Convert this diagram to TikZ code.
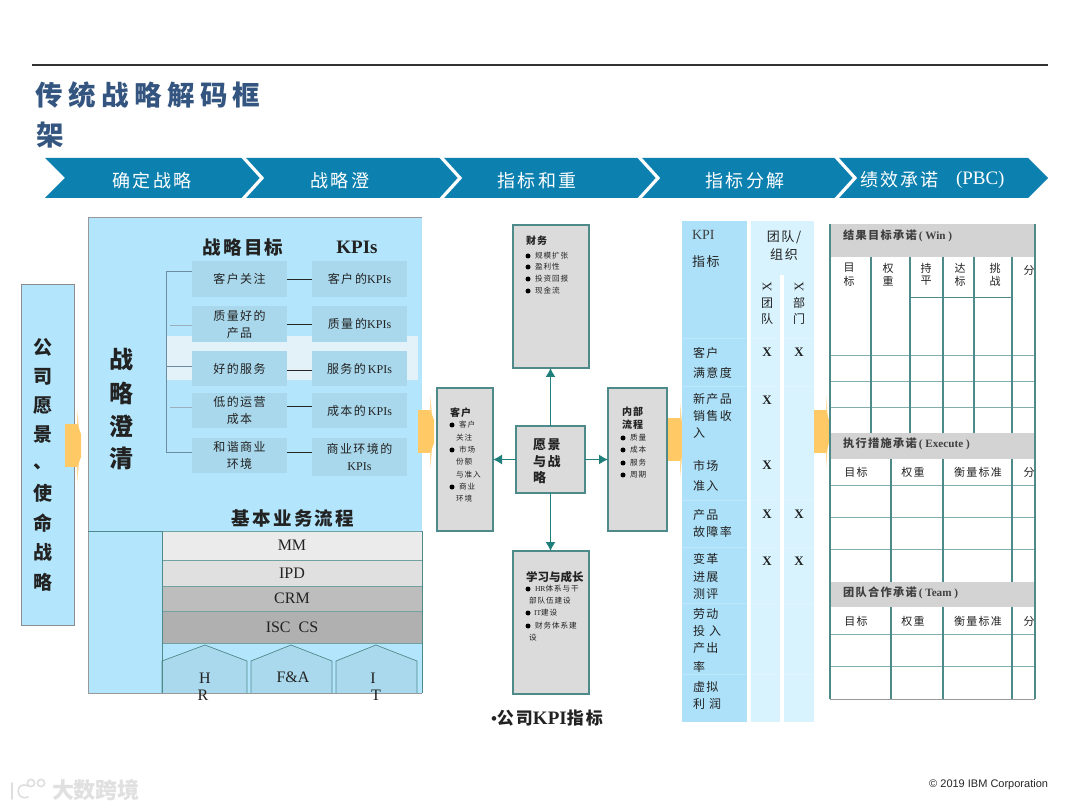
\documentclass[tikz,border=0pt]{standalone}
\usepackage{fontspec}
\setmainfont{Liberation Serif}
\newfontfamily\cj[LetterSpace=12]{Noto Sans CJK SC}
\newfontfamily\cjh[LetterSpace=14]{Noto Sans CJK SC}
\newfontfamily\cjt[LetterSpace=0]{Noto Sans CJK SC}
\newfontfamily\cjtitle[LetterSpace=20]{Noto Sans CJK SC}
\newfontfamily\arial{Liberation Sans}
\usetikzlibrary{arrows.meta}
\definecolor{panel}{HTML}{B3E6FC}
\definecolor{goal}{HTML}{A9D8EC}
\definecolor{band}{HTML}{E3F2F9}
\definecolor{chev}{HTML}{0C81B0}
\definecolor{titlec}{HTML}{34557F}
\definecolor{teal}{HTML}{4F8A8B}
\definecolor{dteal}{HTML}{1F7F7A}
\definecolor{orange}{HTML}{FFC966}
\definecolor{gbox}{HTML}{DBDBDB}
\definecolor{hdr}{HTML}{D3D3D3}
\definecolor{kpil}{HTML}{ADE1F9}
\definecolor{kpir}{HTML}{D8F3FD}
\definecolor{inkc}{HTML}{222222}
\definecolor{brk}{HTML}{6E8CA0}
\tikzset{
  every node/.style={inner sep=0pt,outer sep=0pt,text=inkc},
  lbl/.style={anchor=west,font=\cj\fontsize{12}{14}\selectfont},
  smtext/.style={anchor=west,font=\cj\fontsize{7.6}{8}\selectfont},
  smb/.style={anchor=west,font=\cj\bfseries\fontsize{10}{12}\selectfont},
  bullet/.style={circle,fill=black,minimum size=5pt},
  bigv/.style={font=\cj\bfseries\fontsize{19}{20}\selectfont},
  strv/.style={font=\cj\bfseries\fontsize{24}{26}\selectfont},
  chevtext/.style={text=white,font=\cj\fontsize{18}{20}\selectfont},
  goalbox/.style={fill=goal,anchor=north west,align=center,font=\cj\fontsize{12}{17}\selectfont},
  greybox/.style={draw=teal,line width=1.1pt,fill=gbox,anchor=north west},
  arr/.style={draw=dteal,line width=1.2pt,-{Latex[length=9pt,width=10pt]}},
  tablerule/.style={draw=teal,line width=1.4pt},
  thinrule/.style={draw=teal!70,line width=.7pt},
  hbar/.style={fill=hdr,anchor=north west},
  proc/.style={anchor=north west,draw=teal!80,line width=.5pt,font=\fontsize{16}{18}\selectfont,text=inkc},
  xmark/.style={font=\bfseries\fontsize{13}{14}\selectfont},
  headcell/.style={font=\cj\fontsize{11}{13}\selectfont,align=center},
  hdt/.style={anchor=west,font=\cj\bfseries\fontsize{11.2}{12}\selectfont,text=black!75},
  wmline/.style={draw=black!13,line width=1.6pt,line cap=round},
}
\newcommand{\orangearrow}[5]{% x0 xbody ytop ybot xtip
  \fill[orange!70] (#2,#3-15) -- (#5,{(#3+#4)/2}) -- (#2,#4+16) -- cycle;
  \fill[orange] (#1,#3) rectangle (#2,#4);
  \fill[orange] (#2,#3) -- (#5,#3+10) -- (#5,#4-10) -- (#2,#4) -- cycle;
}
\begin{document}
\begin{tikzpicture}[x=1pt,y=-1pt]
\useasboundingbox (0,0) rectangle (1080,810);
\fill[white] (0,0) rectangle (1080,810);
% top rule and title
\draw[black!80,line width=1.3pt] (32,65) -- (1048,65);
\node[anchor=west,text=titlec,font=\cjtitle\bfseries\fontsize{27.5}{30}\selectfont] (title1) at (35,95) {传统战略解码框};
\node[anchor=west,text=titlec,font=\cjt\bfseries\fontsize{27.5}{30}\selectfont] (title2) at (36,135) {架};
% chevrons
\fill[chev] (45,158) -- (1028,158) -- (1048,178) -- (1028,198) -- (45,198) -- (65,178) -- cycle;
\foreach \t in {262,460,658,855}{
  \draw[white,line width=3.2pt] (\t-20,156) -- (\t,178) -- (\t-20,200);
}
\node[chevtext] (c1) at (152,181) {确定战略};
\node[chevtext] (c2) at (340,181) {战略澄};
\node[chevtext] (c3) at (537,181) {指标和重};
\node[chevtext] (c4) at (745,181) {指标分解};
\node[chevtext,anchor=west] (c5) at (860,180) {绩效承诺};
\node[anchor=west,text=white,font=\fontsize{19}{20}\selectfont] (c5b) at (956,180) {(PBC)};
% left box
\node[draw=black!45,line width=1pt,fill=panel,anchor=north west,minimum width=53pt,minimum height=340pt] (vision) at (21,285) {};
\foreach \c/\y in {公/347,司/377,愿/406,景/435,、/467,使/493,命/523,战/552,略/582}{
  \node[bigv] at (43,\y) {\c};
}
% main panel
\fill[panel] (88,217) rectangle (422,693);
\draw[black!40,line width=.7pt] (88,693) -- (88,217) -- (422,217);
\draw[black!40,line width=.7pt] (88,693) -- (162,693);
\fill[band] (166,336) rectangle (418,380);
\foreach \c/\y in {战/360,略/393,澄/426,清/458}{
  \node[strv] at (121,\y) {\c};
}
\node[font=\cj\bfseries\fontsize{18.5}{20}\selectfont] (h1) at (243,247) {战略目标};
\node[font=\bfseries\fontsize{19}{20}\selectfont] (h2) at (357,247) {KPIs};
% goal and KPI rows
\foreach \n/\y/\h/\t in {1/261/36/{客户关注},2/306/36/{质量好的\\产品},3/351/35/{好的服务},4/393/35/{低的运营\\成本},5/438/35/{和谐商业\\环境}}{
  \node[goalbox,minimum width=95pt,minimum height=\h pt] (g\n) at (192,\y) {\t};
}
\node[goalbox,minimum width=95pt,minimum height=36pt] (k1) at (312,261) {客户\,的{\rmfamily KPIs}};
\node[goalbox,minimum width=95pt,minimum height=36pt] (k2) at (312,306) {质量\,的{\rmfamily KPIs}};
\node[goalbox,minimum width=95pt,minimum height=35pt] (k3) at (312,351) {服务的\,{\rmfamily KPIs}};
\node[goalbox,minimum width=95pt,minimum height=35pt] (k4) at (312,393) {成本的\,{\rmfamily KPIs}};
\node[goalbox,minimum width=95pt,minimum height=38pt] (k5) at (312,438) {商业环境的\\{\rmfamily KPIs}};
\foreach \n/\y in {1/280,2/325,3/371,4/407,5/453}{ \draw[black!85,line width=1pt] (g\n.east |- 0,\y) -- (k\n.west |- 0,\y); }
\coordinate (b1) at (166,272); \coordinate (b5) at (166,453);
\draw[brk,line width=1pt] (g1.west |- b1) -- (b1) -- (b5) -- (g5.west |- b5);
\draw[brk,line width=1pt] (166,367) -- (192,367);
\draw[brk!70,line width=.6pt] (170,325) -- (192,325);
\draw[brk!70,line width=.6pt] (170,407) -- (192,407);
% processes
\node[font=\cj\bfseries\fontsize{18.5}{20}\selectfont] (h3) at (293,518) {基本业务流程};
\draw[teal,line width=.7pt] (88,531) -- (422,531);
\node[proc,fill=black!8,minimum width=260pt,minimum height=29pt] (mm) at (162,531) {MM};
\node[proc,fill=black!12,minimum width=260pt,minimum height=26pt] (ipd) at (162,560) {IPD};
\node[proc,fill=black!26,minimum width=260pt,minimum height=25pt] (crm) at (162,586) {CRM};
\node[proc,fill=black!31,minimum width=260pt,minimum height=32pt] (isc) at (162,611) {ISC\ \ CS};
\foreach \a/\p/\b in {162/205/247,251/291/332,336/376/417}{
  \filldraw[fill=goal!90!panel,draw=teal,line width=.7pt] (\a,693) -- (\a,661) -- (\p,645) -- (\b,661) -- (\b,693);
}
\draw[teal,line width=1pt] (162,531) -- (162,693);
\draw[teal,line width=.8pt] (422,531) -- (422,693);
\draw[black!40,line width=.7pt] (162,693) -- (422,693);
\tikzset{pl/.style={font=\fontsize{16}{18}\selectfont}}
\node[pl] at (205,678) {H}; \node[pl] at (203,695) {R};
\node[pl] at (293,677) {F\&A};
\node[pl] at (373,678) {I}; \node[pl] at (376,695) {T};
% orange arrows
\orangearrow{65}{77}{424}{467}{81}
\orangearrow{418}{430}{410}{453}{434}
\orangearrow{667}{680}{418}{461}{684}
\orangearrow{813}{826}{410}{453}{829}
% balanced scorecard
\node[greybox,minimum width=76pt,minimum height=143pt] (fin) at (513,225) {};
\node[greybox,minimum width=56pt,minimum height=143pt] (cus) at (437,388) {};
\node[greybox,minimum width=59pt,minimum height=143pt] (int) at (608,388) {};
\node[greybox,minimum width=69pt,minimum height=67pt] (vis) at (516,426) {};
\node[greybox,minimum width=76pt,minimum height=143pt] (lrn) at (513,551) {};
\draw[arr] (vis.north) -- (vis.north |- fin.south);
\draw[arr] (vis.south) -- (vis.south |- lrn.north);
\draw[arr] (vis.west) -- (cus.east |- vis.west);
\draw[arr] (vis.east) -- (int.west |- vis.east);
\node[smb] at (526,241) {财务};
\foreach \t/\y in {规模扩张/256,盈利性/267,投资回报/279,现金流/291}{
  \node[bullet] at (528,\y) {}; \node[smtext] at (535,\y) {\t};
}
\node[smb] at (450,413) {客户};
\foreach \y in {425,450,487}{ \node[bullet] at (452,\y) {}; }
\foreach \t/\x/\y in {客户/459/425,关注/456/438,市场/459/450,份额/456/462,与准入/456/475,商业/459/487,环境/456/499}{
  \node[smtext] at (\x,\y) {\t};
}
\node[smb] at (622,412) {内部};
\node[smb] at (622,425) {流程};
\foreach \t/\y in {质量/438,成本/450,服务/463,周期/475}{
  \node[bullet] at (623,\y) {}; \node[smtext] at (630,\y) {\t};
}
\foreach \t/\x/\y in {愿景/533/445,与战/533/462,略/533/478}{
  \node[anchor=west,font=\cj\bfseries\fontsize{13}{14}\selectfont] at (\x,\y) {\t};
}
\node[smb,font=\cjt\bfseries\fontsize{11.5}{12}\selectfont] at (526,577) {学习与成长};
\foreach \y in {589,613,626}{ \node[bullet] at (528,\y) {}; }
\node[smtext] at (535,589) {{\rmfamily HR}体系与干};
\node[smtext] at (529,601) {部队伍建设};
\node[smtext] at (534,613) {{\rmfamily IT}建设};
\node[smtext] at (535,626) {财务体系建};
\node[smtext] at (529,638) {设};
\node[anchor=west,font=\cj\bfseries\fontsize{17}{18}\selectfont] (kpicap) at (491,718) {{\rmfamily\bfseries •}公司{\rmfamily\bfseries\fontsize{19}{20}\selectfont KPI}指标};
% KPI table
\fill[kpil] (682,221) rectangle (747,722);
\fill[kpir] (751,221) rectangle (814,275);
\fill[kpir] (751,275) rectangle (780,722);
\fill[kpir] (784,275) rectangle (814,722);
\foreach \y in {338,386,500,547,603,674}{
  \draw[white,opacity=.2,line width=.7pt] (682,\y) -- (814,\y);
}
\node[anchor=west,font=\fontsize{14}{16}\selectfont,text=black!75] (kh) at (692,235) {KPI};
\node[lbl,font=\cj\fontsize{13}{14}\selectfont] at (692,262) {指标};
\node[font=\cj\fontsize{13}{14}\selectfont] (th1) at (784,237) {团队/};
\node[font=\cj\fontsize{13}{14}\selectfont] (th2) at (784,255) {组织};
\foreach \x/\a/\b in {767/团/队,799/部/门}{
  \node[font=\fontsize{13}{14}\selectfont] at (\x,287) {\rotatebox{90}{X}};
  \node[font=\cj\fontsize{12}{14}\selectfont] at (\x,303) {\a};
  \node[font=\cj\fontsize{12}{14}\selectfont] at (\x,319) {\b};
}
\foreach \t/\y in {客户/353,满意度/373,新产品/399,销售收/416,入/433,市场/466,准入/486,产品/515,故障率/532,变革/559,进展/577,测评/594,劳动/614,投\,\,入/631,产出/648,率/667,虚拟/687,利\,\,润/704}{
  \node[lbl] at (693,\y) {\t};
}
\foreach \x/\y in {767/352,799/352,767/400,767/465,767/514,799/514,767/561,799/561}{
  \node[xmark] at (\x,\y) {X};
}
% commitment table
\node[hbar,minimum width=205pt,minimum height=33pt] (hw) at (830,224) {};
\node[hbar,minimum width=205pt,minimum height=26pt] (he) at (830,433) {};
\node[hbar,minimum width=205pt,minimum height=25pt] (ht) at (830,582) {};
\foreach \y in {355,381,407,485,517,549,634,666}{
  \draw[thinrule] (830,\y) -- (1035,\y);
}
\draw[black!40,line width=1pt] (830,699) -- (1035,699);
\draw[tablerule,line width=1pt] (910,298) -- (1012,298);
\foreach \x in {871,910,943,974,1012}{ \draw[tablerule] (\x,257) -- (\x,433); }
\foreach \x in {891,943,1012}{ \draw[tablerule] (\x,459) -- (\x,582); \draw[tablerule] (\x,607) -- (\x,699); }
\draw[tablerule] (830,224) -- (830,699);
\draw[tablerule] (1035,224) -- (1035,699);
\node[hdt] at (843,236) {结果目标承诺\,{\rmfamily\bfseries ( Win )}};
\node[hdt] at (843,444) {执行措施承诺\,{\rmfamily\bfseries ( Execute )}};
\node[hdt] at (843,593) {团队合作承诺\,{\rmfamily\bfseries ( Team )}};
\foreach \a/\b/\x in {目/标/849,权/重/888,持/平/926,达/标/960,挑/战/995}{
  \node[headcell] at (\x,268) {\a}; \node[headcell] at (\x,281) {\b};
}
\node[headcell] at (1029,270) {分};
\foreach \y in {472,621}{
  \node[headcell] at (856,\y) {目标}; \node[headcell] at (913,\y) {权重};
  \node[headcell] at (978,\y) {衡量标准}; \node[headcell] at (1029,\y) {分};
}
% footer
\node[anchor=east,font=\arial\fontsize{11}{13}\selectfont,text=black!85] (ibm) at (1048,785) {© 2019 IBM Corporation};
\node[anchor=west,font=\cjt\bfseries\fontsize{22}{24}\selectfont,text=black!12] (wm) at (52,790) {大数跨境};
\draw[wmline] (12,783) -- (12,799);
\draw[wmline] (28,786) .. controls (15,780) and (15,802) .. (28,797);
\draw[wmline] (31,783) circle[radius=3.6];
\draw[wmline] (41,783) circle[radius=3.6];
\end{tikzpicture}
\end{document}
